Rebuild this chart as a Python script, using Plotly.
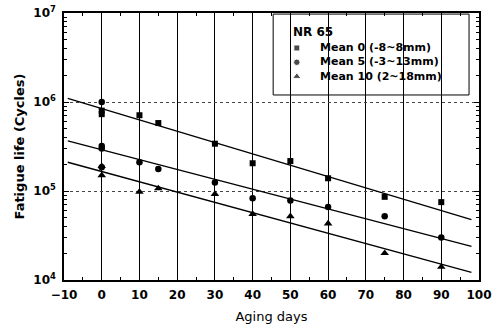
import numpy as np
import plotly.graph_objects as go

# Fatigue life of NR 65 vs. aging days for three mean strain levels
days_m0 = [0, 0, 10, 15, 30, 40, 50, 60, 75, 90]
life_m0 = [8.0e5, 7.3e5, 7.1e5, 5.8e5, 3.4e5, 2.05e5, 2.17e5, 1.39e5, 8.6e4, 7.5e4]

days_m5 = [0, 0, 0, 0, 10, 15, 30, 40, 50, 60, 75, 90]
life_m5 = [1.0e6, 3.2e5, 3.0e5, 1.85e5, 2.1e5, 1.77e5, 1.25e5, 8.3e4, 7.8e4, 6.6e4, 5.2e4, 3.0e4]

days_m10 = [0, 0, 10, 15, 30, 40, 50, 60, 75, 90]
life_m10 = [1.9e5, 1.5e5, 9.8e4, 1.07e5, 9.25e4, 5.5e4, 5.2e4, 4.3e4, 2.0e4, 1.4e4]

# Log-linear regression lines: log10(N) = intercept + slope * days
fit_intercept = [5.927, 5.463, 5.219]
fit_slope = [-0.01274, -0.01107, -0.01156]
fit_days = [-9, 98]

legend_title = "NR 65"
legend_labels = ["Mean 0 (-8~8mm)", "Mean 5 (-3~13mm)", "Mean 10 (2~18mm)"]
symbols = ["square", "circle", "triangle-up"]
sizes = [6, 6.5, 7.5]

x_ticks = list(range(-10, 101, 10))
y_ticks = [1e4, 1e5, 1e6, 1e7]
y_ticktext = ["10<sup>4</sup>", "10<sup>5</sup>", "10<sup>6</sup>", "10<sup>7</sup>"]

FONT = "DejaVu Sans"

fig = go.Figure()

# regression lines
for a, b in zip(fit_intercept, fit_slope):
    xs = np.array(fit_days, dtype=float)
    fig.add_trace(go.Scatter(
        x=xs, y=10 ** (a + b * xs), mode="lines",
        line=dict(color="black", width=1.3), showlegend=False, hoverinfo="skip"))

# measured points
for xs, ys, sym, sz in zip([days_m0, days_m5, days_m10],
                           [life_m0, life_m5, life_m10], symbols, sizes):
    fig.add_trace(go.Scatter(
        x=xs, y=ys, mode="markers",
        marker=dict(symbol=sym, size=sz, color="black"),
        showlegend=False))

# legend box (above the grid, below the traces)
fig.add_shape(type="rect", xref="paper", yref="paper",
              x0=0.504, x1=0.976, y0=0.693, y1=0.996,
              line=dict(color="black", width=1), fillcolor="white", layer="between")

fig.add_annotation(text=legend_title, xref="paper", yref="paper",
                   x=0.548, y=0.928, xanchor="left", yanchor="middle",
                   showarrow=False,
                   font=dict(family=FONT, size=12, color="black", weight="bold"))

fig.add_annotation(text="<br>".join(legend_labels), xref="paper", yref="paper",
                   x=0.612, y=0.815, xanchor="left", yanchor="middle", align="left",
                   showarrow=False,
                   font=dict(family=FONT, size=11, color="black", weight="bold"))

# legend markers on an overlay axis spanning the plot area
row_y = [0.869, 0.8155, 0.762]
fig.add_trace(go.Scatter(
    x=[0.561] * 3, y=row_y, mode="markers", xaxis="x2", yaxis="y2",
    marker=dict(symbol=symbols, size=sizes, color="black"),
    showlegend=False, hoverinfo="skip"))

axis_common = dict(
    showline=True, linecolor="black", linewidth=1.5, mirror="allticks",
    ticks="inside", ticklen=5, tickcolor="black", tickwidth=1,
    tickfont=dict(family=FONT, size=12, color="black", weight="bold"),
    zeroline=False, automargin=False,
)

fig.update_layout(
    width=504, height=324,
    margin=dict(l=64, r=25, t=13, b=44),
    paper_bgcolor="white", plot_bgcolor="white",
    showlegend=False,
    xaxis=dict(
        range=[-10, 100], tickvals=x_ticks,
        showgrid=True, gridcolor="black", gridwidth=1,
        minor=dict(ticks="inside", ticklen=3, dtick=5, tick0=0, tickcolor="black"),
        title=dict(text="Aging days", font=dict(family=FONT, size=13, color="black")),
        ticklabelstandoff=3,
        **axis_common),
    yaxis=dict(
        type="log", range=[4, 7], tickvals=y_ticks, ticktext=y_ticktext,
        showgrid=True, gridcolor="#444444", gridwidth=1, griddash="dot",
        minor=dict(ticks="inside", ticklen=3, dtick="D1", tickcolor="black"),
        title=dict(text="Fatigue life (Cycles)",
                   font=dict(family=FONT, size=13, color="black", weight="bold"),
                   standoff=6),
        ticklabelstandoff=4,
        **axis_common),
    xaxis2=dict(range=[0, 1], overlaying="x", visible=False),
    yaxis2=dict(range=[0, 1], overlaying="y", visible=False),
)

fig.write_html("out.html")
